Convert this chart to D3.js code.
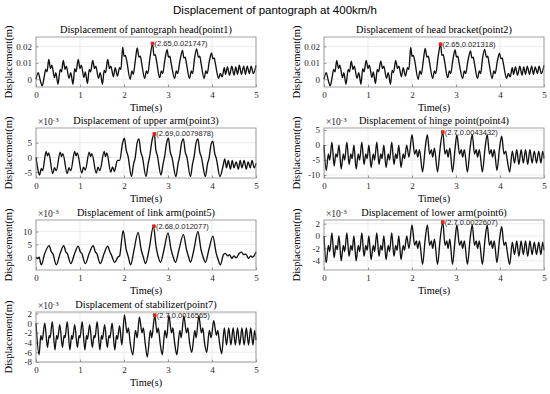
<!DOCTYPE html>
<html>
<head>
<meta charset="utf-8">
<script src="https://cdn.jsdelivr.net/npm/d3@7"></script>
<style>
  body { margin: 0; background: #fff; }
  svg { display: block; }
</style>
</head>
<body>
<svg width="550" height="394"></svg>
<script>
// displacement, [time (s), value in 1e-3 m]
const head = [[0,0],[0.05,4],[0.1,-1],[0.14,-4],[0.19,2],[0.22,6],[0.25,4.5],[0.29,12],[0.33,6.5],[0.36,8.5],[0.42,1],[0.45,4],[0.5,-3],
  [0.55,6],[0.58,4.5],[0.62,11.5],[0.66,6],[0.69,8],[0.75,0.5],[0.79,4],[0.84,-3],
  [0.88,6.5],[0.91,4.5],[0.96,12],[1.0,6.5],[1.03,8.5],[1.09,1],[1.12,4.5],[1.17,-2.5],
  [1.21,6],[1.24,4.5],[1.29,11.5],[1.33,6.5],[1.36,8],[1.42,0.5],[1.46,4],[1.51,-3],
  [1.55,5.5],[1.58,4],[1.63,12],[1.67,6.5],[1.7,8],[1.76,1.5],[1.8,7],[1.85,2],
  [1.9,7],[1.93,6],[1.97,19.5],[2.0,14],[2.03,14.5],[2.06,11.5],[2.14,0],[2.18,5],[2.21,3],
  [2.26,12],[2.3,19],[2.34,13.5],[2.37,14],[2.4,10],[2.47,0.5],[2.51,5],[2.54,3.5],
  [2.59,13],[2.65,21.7],[2.68,14.5],[2.71,15],[2.74,11],[2.81,1],[2.85,5],[2.88,3.5],
  [2.93,12],[2.98,18],[3.01,13.5],[3.04,14],[3.07,10],[3.15,0.5],[3.19,5],[3.22,3.5],
  [3.27,11],[3.33,17.5],[3.36,13],[3.39,13.5],[3.42,9.5],[3.49,0.5],[3.53,5],[3.56,3.5],
  [3.6,12],[3.65,18.5],[3.69,13.5],[3.72,14],[3.75,10],[3.82,0.5],[3.86,5],[3.89,3.5],
  [3.94,11],[3.99,16],[4.02,12.5],[4.05,13],[4.08,9],[4.15,0.5],[4.19,3.5],
  [4.23,1.5],[4.28,7],[4.31,3],[4.35,7.5],[4.4,2.5],[4.45,8],[4.5,2.5],[4.54,7.5],[4.58,3],[4.62,8.5],
  [4.67,3],[4.72,8],[4.76,3],[4.8,8],[4.85,3.5],[4.89,8],[4.94,3.5],[5,8.5]];

const bracket = [[0,0],[0.05,4],[0.1,-1],[0.14,-4],[0.19,2],[0.22,6],[0.25,4.5],[0.29,11.5],[0.33,6.5],[0.36,8.5],[0.42,1],[0.45,4],[0.5,-3],
  [0.55,6],[0.58,4.5],[0.62,11],[0.66,6],[0.69,8],[0.75,0.5],[0.79,4],[0.84,-3],
  [0.88,6.5],[0.91,4.5],[0.96,11.5],[1.0,6.5],[1.03,8.5],[1.09,1],[1.12,4.5],[1.17,-2.5],
  [1.21,6],[1.24,4.5],[1.29,11],[1.33,6.5],[1.36,8],[1.42,0.5],[1.46,4],[1.51,-3],
  [1.55,5.5],[1.58,4],[1.63,11.5],[1.67,6.5],[1.7,8],[1.76,1.5],[1.8,7],[1.85,2],
  [1.9,7],[1.93,6],[1.97,19.3],[2.0,14],[2.03,14.5],[2.06,11.5],[2.14,0],[2.18,5],[2.21,3],
  [2.26,12],[2.3,18.7],[2.34,13.5],[2.37,14],[2.4,10],[2.47,0.5],[2.51,5],[2.54,3.5],
  [2.59,13],[2.65,21.3],[2.68,14.5],[2.71,15],[2.74,11],[2.81,1],[2.85,5],[2.88,3.5],
  [2.93,12],[2.98,17.8],[3.01,13.5],[3.04,14],[3.07,10],[3.15,0.5],[3.19,5],[3.22,3.5],
  [3.27,11],[3.33,17.3],[3.36,13],[3.39,13.5],[3.42,9.5],[3.49,0.5],[3.53,5],[3.56,3.5],
  [3.6,12],[3.65,18.2],[3.69,13.5],[3.72,14],[3.75,10],[3.82,0.5],[3.86,5],[3.89,3.5],
  [3.94,11],[3.99,15.8],[4.02,12.5],[4.05,13],[4.08,9],[4.15,0.5],[4.19,3.5],
  [4.23,1.5],[4.28,7],[4.31,3],[4.35,7.5],[4.4,2.5],[4.45,8],[4.5,2.5],[4.54,7.5],[4.58,3],[4.62,8],
  [4.67,3],[4.72,8],[4.76,3],[4.8,7.5],[4.85,3.5],[4.89,8],[4.94,3.5],[5,8.5]];

const upperArm = [[0,0],[0.03,-3],[0.08,-6],[0.12,-3.8],[0.15,-4.5],[0.23,2],[0.26,0.5],[0.29,1.5],
  [0.38,-5.5],[0.42,-3.5],[0.46,-4.5],[0.55,1.8],[0.58,0.3],[0.61,1.3],
  [0.71,-5.5],[0.75,-3.5],[0.79,-4.5],[0.88,2],[0.91,0.5],[0.94,1.5],
  [1.04,-5.3],[1.08,-3.3],[1.12,-4.3],[1.21,1.8],[1.24,0.3],[1.27,1.3],
  [1.37,-5.3],[1.41,-3.3],[1.45,-4.5],[1.55,2],[1.58,0.3],[1.61,1.5],
  [1.7,-5],[1.74,-3.2],[1.78,-4.8],[1.85,-1],[1.9,-1],
  [1.97,5],[2.01,6.5],[2.05,2.5],[2.09,0.5],[2.17,-6.5],[2.22,-2],[2.25,-0.5],
  [2.3,5],[2.34,6.3],[2.38,2],[2.42,0],[2.5,-6.5],[2.55,-2],[2.58,0],
  [2.64,6],[2.69,8],[2.72,3],[2.76,0.5],[2.84,-6],[2.89,-2],[2.92,0],
  [2.97,5],[3.01,6.5],[3.05,2],[3.09,0],[3.18,-6.5],[3.23,-2],[3.26,0],
  [3.31,5],[3.35,6.3],[3.39,2],[3.43,0],[3.51,-6.5],[3.56,-2],[3.59,0],
  [3.64,5],[3.68,6.3],[3.72,2],[3.76,0],[3.85,-6.5],[3.9,-2],[3.93,-0.5],
  [3.98,4.5],[4.02,5.5],[4.06,1.5],[4.1,-0.5],[4.18,-6.5],
  [4.25,-3],[4.29,-0.5],[4.33,-3.5],[4.37,-1],[4.42,-4],[4.46,-1],[4.5,-3.5],[4.55,-1.5],[4.6,-4],
  [4.64,-1],[4.68,-3.5],[4.73,-1],[4.78,-4],[4.82,-1.5],[4.87,-3.5],[4.91,-1],[4.96,-3.5],[5,-2]];

const hinge = [[0,0],[0.05,-8.5],[0.1,-3],[0.13,-5],[0.18,1],[0.23,-7],[0.27,-3],[0.3,-4],[0.34,0],
  [0.39,-8],[0.44,-3],[0.47,-5],[0.52,1],[0.57,-6.5],[0.61,-3],[0.64,-4.5],[0.68,0],
  [0.73,-8],[0.78,-3],[0.81,-5],[0.86,1],[0.91,-6.5],[0.95,-3],[0.98,-4.5],[1.02,0],
  [1.07,-7.5],[1.12,-3],[1.15,-5],[1.2,1],[1.25,-6.5],[1.29,-3],[1.32,-4.5],[1.36,0],
  [1.41,-7.5],[1.46,-3],[1.49,-5],[1.54,1],[1.59,-6.5],[1.63,-3],[1.66,-4.5],[1.7,0],
  [1.75,-7.5],[1.8,-3],[1.83,-4.5],[1.88,0],
  [1.93,-4],[2.0,3.5],[2.06,-3],[2.1,-1.5],[2.13,-4],[2.17,-1.5],[2.24,-9],
  [2.3,-1],[2.35,3.5],[2.4,-3],[2.44,-1.5],[2.47,-4],[2.51,-1],[2.58,-9],
  [2.64,-1],[2.7,4.3],[2.75,-3],[2.79,-1.5],[2.82,-4],[2.86,-1],[2.92,-9],
  [2.98,-1],[3.02,3.5],[3.08,-3],[3.12,-1.5],[3.15,-4],[3.19,-1.5],[3.26,-9],
  [3.32,-1],[3.37,3.5],[3.42,-3],[3.46,-1.5],[3.49,-4],[3.53,-1.5],[3.6,-9],
  [3.66,-1],[3.71,3.5],[3.76,-3],[3.8,-1.5],[3.83,-4],[3.87,-1.5],[3.93,-8.5],
  [3.99,-1],[4.04,3],[4.09,-3],[4.13,-2],[4.16,-4.5],[4.22,-9],
  [4.28,-2],[4.33,-6],[4.38,-1.5],[4.43,-6.5],[4.48,-1.5],[4.53,-6],[4.58,-1.5],[4.63,-6.5],
  [4.68,-1.5],[4.73,-6],[4.78,-2],[4.83,-6],[4.88,-2],[4.93,-6],[4.97,-2],[5,-4.5]];

const linkArm = [[0,0],[0.04,-0.5],[0.07,0],[0.12,-3],[0.2,1.5],[0.3,4.5],[0.35,2],[0.38,1.5],
  [0.46,-3],[0.55,1.5],[0.63,4.5],[0.68,2],[0.71,1.5],
  [0.79,-2.5],[0.88,1.5],[0.96,4.3],[1.01,2],[1.04,1.5],
  [1.12,-2.5],[1.21,1.5],[1.3,4.5],[1.35,2],[1.38,1.5],
  [1.46,-2.5],[1.55,1.5],[1.63,4.3],[1.68,2],[1.71,1],
  [1.79,-2],[1.86,0],[1.9,0.5],
  [1.98,10.3],[2.05,3],[2.1,0],[2.15,-3],[2.23,3],
  [2.32,9.7],[2.39,3],[2.44,0],[2.49,-2.5],[2.57,3],
  [2.67,12.1],[2.73,4],[2.78,0],[2.83,-2],[2.91,3],
  [3.0,9.5],[3.07,3],[3.12,0],[3.17,-2],[3.25,3],
  [3.35,8.8],[3.42,3],[3.47,0],[3.51,-2],[3.59,3],
  [3.68,10],[3.75,3],[3.8,0],[3.85,-2],[3.93,3],
  [4.02,8.2],[4.09,2],[4.14,-1],[4.19,-3],
  [4.26,1],[4.3,1.5],[4.36,0.5],[4.4,1],[4.45,-0.5],[4.5,0.5],[4.55,-0.3],[4.62,1.5],[4.67,2],
  [4.72,1],[4.77,1.2],[4.83,-0.5],[4.88,0.5],[4.92,0],[5,2]];

const lowerArm = [[0,0],[0.05,-4.3],[0.1,-1.5],[0.13,-2.5],[0.18,0.5],[0.23,-3.5],[0.27,-1.5],[0.3,-2.2],[0.34,0],
  [0.39,-4],[0.44,-1.5],[0.47,-2.5],[0.52,0.5],[0.57,-3.3],[0.61,-1.5],[0.64,-2.3],[0.68,0],
  [0.73,-4],[0.78,-1.5],[0.81,-2.5],[0.86,0.5],[0.91,-3.3],[0.95,-1.5],[0.98,-2.3],[1.02,0],
  [1.07,-3.8],[1.12,-1.5],[1.15,-2.5],[1.2,0.5],[1.25,-3.3],[1.29,-1.5],[1.32,-2.3],[1.36,0],
  [1.41,-3.8],[1.46,-1.5],[1.49,-2.5],[1.54,0.5],[1.59,-3.3],[1.63,-1.5],[1.66,-2.3],[1.7,0],
  [1.75,-3.8],[1.8,-1.5],[1.83,-2.3],[1.88,0],
  [1.93,-2],[2.0,1.8],[2.06,-1.5],[2.1,-0.8],[2.13,-2],[2.17,-0.8],[2.24,-4.6],
  [2.3,-0.5],[2.35,1.8],[2.4,-1.5],[2.44,-0.8],[2.47,-2],[2.51,-0.5],[2.58,-4.6],
  [2.64,-0.5],[2.7,2.26],[2.75,-1.5],[2.79,-0.8],[2.82,-2],[2.86,-0.5],[2.92,-4.6],
  [2.98,-0.5],[3.02,1.8],[3.08,-1.5],[3.12,-0.8],[3.15,-2],[3.19,-0.8],[3.26,-4.6],
  [3.32,-0.5],[3.37,1.8],[3.42,-1.5],[3.46,-0.8],[3.49,-2],[3.53,-0.8],[3.6,-4.6],
  [3.66,-0.5],[3.71,1.8],[3.76,-1.5],[3.8,-0.8],[3.83,-2],[3.87,-0.8],[3.93,-4.3],
  [3.99,-0.5],[4.04,1.5],[4.09,-1.5],[4.13,-1],[4.16,-2.3],[4.22,-4.6],
  [4.28,-1],[4.33,-3],[4.38,-0.8],[4.43,-3.3],[4.48,-0.8],[4.53,-3],[4.58,-0.8],[4.63,-3.3],
  [4.68,-0.8],[4.73,-3],[4.78,-1],[4.83,-3],[4.88,-1],[4.93,-3],[4.97,-1],[5,-2.3]];

const stabilizer = [[0,0],[0.07,-6.5],[0.11,-2.5],[0.14,-3.5],[0.2,0],[0.26,-5],[0.3,-2.5],[0.32,-3],
  [0.37,0.3],[0.43,-5.5],[0.47,-2.5],[0.49,-3.3],[0.54,-0.3],[0.6,-5],[0.64,-2.5],[0.66,-3],
  [0.71,0.3],[0.77,-5.5],[0.81,-2.5],[0.83,-3.3],[0.88,-0.3],[0.94,-5],[0.98,-2.5],[1.0,-3],
  [1.05,0.3],[1.11,-5.5],[1.15,-2.5],[1.17,-3.3],[1.22,-0.3],[1.28,-5],[1.32,-2.5],[1.34,-3],
  [1.39,0.3],[1.45,-5.5],[1.49,-2.5],[1.51,-3.3],[1.56,-0.3],[1.62,-5],[1.66,-2.5],[1.68,-3],
  [1.73,0],[1.79,-5.5],[1.83,-2.5],[1.85,-3.3],[1.9,-0.5],
  [1.95,-4.5],[2.01,1.7],[2.07,-2],[2.1,-1],[2.14,-4],[2.2,-6.5],[2.26,-1.5],[2.3,-3],
  [2.35,1.3],[2.41,-2],[2.44,-1],[2.48,-4],[2.53,-7],[2.6,-1.5],[2.63,-3],
  [2.7,1.66],[2.75,-2],[2.78,-1],[2.82,-4],[2.87,-6.5],[2.93,-1.5],[2.97,-3],
  [3.02,1.6],[3.08,-2],[3.11,-1],[3.15,-4],[3.2,-6.5],[3.27,-1.5],[3.3,-3],
  [3.36,1.5],[3.42,-2],[3.45,-1],[3.49,-4],[3.54,-6],[3.61,-1.5],[3.64,-3],
  [3.7,1.5],[3.76,-2],[3.79,-1],[3.83,-4],[3.88,-6],[3.94,-1.5],[3.98,-3],
  [4.04,0.5],[4.1,-2.5],[4.13,-1.5],[4.17,-4],[4.22,-6.3],
  [4.28,-1],[4.33,-4.5],[4.38,-1],[4.43,-4.5],[4.48,-1],[4.53,-4.5],[4.58,-1],[4.63,-4.5],
  [4.68,-1],[4.73,-4.5],[4.78,-1],[4.83,-4.5],[4.88,-1],[4.93,-4.5],[4.97,-1.5],[5,-3.5]];

const series = [head, bracket, upperArm, hinge, linkArm, lowerArm, stabilizer];
const titles = ['Displacement of pantograph head(point1)', 'Displacement of head bracket(point2)',
  'Displacement of upper arm(point3)', 'Displacement of hinge point(point4)',
  'Displacement of link arm(point5)', 'Displacement of lower arm(point6)',
  'Displacement of stabilizer(point7)'];

// data tips at the peak
const peakT = [2.65, 2.65, 2.69, 2.7, 2.68, 2.7, 2.7];
const peakV = ['0.021747', '0.021318', '0.0079878', '0.0043432', '0.012077', '0.0022607', '0.0016565'];

// y ticks in 1e-3 m, first two panels are labelled in m
const yTicks = [[0, 10, 20], [0, 10, 20], [-5, 0, 5], [-10, -5, 0, 5], [0, 5, 10], [-4, -2, 0, 2], [-8, -6, -4, -2, 0, 2]];
const yDomains = [[-4.7, 25.7], [-4.7, 25.7], [-7, 10], [-11, 5.7], [-5, 14.5], [-5.5, 2.6], [-8, 2.3]];
const timeTicks = [0, 1, 2, 3, 4, 5];

const serif = "'Liberation Serif','Times New Roman',serif";
const sans = "'Liberation Sans',Arial,sans-serif";

// subplot boxes
const colX = [36, 324];
const rowY = [37, 128, 220, 312];
const inner = { w: 220, h: 50 };

const svg = d3.select('svg');

svg.append('text')
  .attr('x', 275).attr('y', 14)
  .attr('text-anchor', 'middle')
  .style('font-family', sans).style('font-size', '11.5px')
  .text('Displacement of pantograph at 400km/h');

series.forEach(function (data, i) {
  const left = colX[i % 2];
  const top = rowY[Math.floor(i / 2)];
  const x = d3.scaleLinear().domain([0, 5]).range([0, inner.w]);
  const y = d3.scaleLinear().domain(yDomains[i]).range([inner.h, 0]);

  const g = svg.append('g').attr('transform', 'translate(' + left + ',' + top + ')');

  // grid
  g.selectAll('.vgrid').data(timeTicks).enter().append('line')
    .attr('x1', d => x(d)).attr('x2', d => x(d))
    .attr('y1', 0).attr('y2', inner.h)
    .attr('stroke', '#e4e4e4').attr('stroke-width', 0.7);
  g.selectAll('.hgrid').data(yTicks[i]).enter().append('line')
    .attr('x1', 0).attr('x2', inner.w)
    .attr('y1', d => y(d)).attr('y2', d => y(d))
    .attr('stroke', '#e4e4e4').attr('stroke-width', 0.7);

  // axes, ticks pointing in
  const xa = g.append('g')
    .attr('transform', 'translate(0,' + inner.h + ')')
    .call(d3.axisBottom(x).tickValues(timeTicks).tickFormat(d3.format('d'))
      .tickSizeInner(-2.5).tickSizeOuter(0).tickPadding(5));
  const fmt = i < 2 ? (d => d === 0 ? '0' : String(d / 1000)) : (d => String(d));
  const ya = g.append('g')
    .call(d3.axisLeft(y).tickValues(yTicks[i]).tickFormat(fmt).tickSizeInner(-2.5).tickSizeOuter(0).tickPadding(4));
  [xa, ya].forEach(function (a) {
    a.select('.domain').remove();
    a.selectAll('line').attr('stroke', '#555').attr('stroke-width', 0.6);
    a.selectAll('text').style('font-family', serif).style('font-size', '9px').attr('fill', '#262626');
  });

  // curve
  g.append('path')
    .datum(data)
    .attr('fill', 'none')
    .attr('stroke', '#111')
    .attr('stroke-width', 1.35)
    .attr('d', d3.line().x(d => x(d[0])).y(d => y(d[1])).curve(d3.curveMonotoneX));

  // box
  g.append('rect')
    .attr('width', inner.w).attr('height', inner.h)
    .attr('fill', 'none').attr('stroke', '#8a8a8a').attr('stroke-width', 0.8);

  // peak data tip
  const px = x(peakT[i]), py = y(+peakV[i] * 1000);
  g.append('rect')
    .attr('x', px - 1.8).attr('y', py - 1.8)
    .attr('width', 3.6).attr('height', 3.6)
    .attr('fill', '#e8201c');
  g.append('text')
    .attr('x', px + 2).attr('y', py + 2.5)
    .style('font-family', sans).style('font-size', '7.5px')
    .attr('fill', '#222')
    .text('(' + peakT[i] + ',' + peakV[i] + ')');

  // titles and labels
  g.append('text')
    .attr('x', inner.w / 2).attr('y', -4)
    .attr('text-anchor', 'middle')
    .style('font-family', serif).style('font-size', '10.3px')
    .text(titles[i]);
  g.append('text')
    .attr('x', inner.w / 2).attr('y', inner.h + 24)
    .attr('text-anchor', 'middle')
    .style('font-family', serif).style('font-size', '10.3px')
    .text('Time(s)');
  g.append('text')
    .attr('transform', 'translate(-24,' + (inner.h / 2) + ') rotate(-90)')
    .attr('text-anchor', 'middle')
    .style('font-family', serif).style('font-size', '10.5px')
    .text('Displacement(m)');

  if (i >= 2) {
    const ex = g.append('text')
      .attr('x', 2).attr('y', -3)
      .style('font-family', serif).style('font-size', '9.5px')
      .attr('fill', '#262626');
    ex.append('tspan').text('\u00d710');
    ex.append('tspan').attr('dy', -3.5).style('font-size', '7px').text('-3');
  }
});
</script>
</body>
</html>
